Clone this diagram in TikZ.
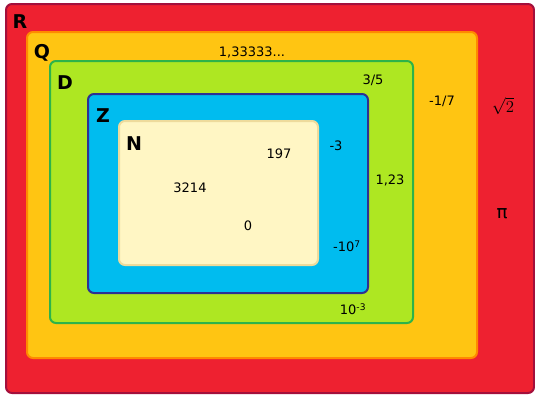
\documentclass[tikz,border=0pt]{standalone}
\usepackage{fontspec}
\setmainfont{DejaVu Sans}
\usepackage{xcolor}
\usetikzlibrary{positioning}

\definecolor{realred}{HTML}{EE2130}
\definecolor{realedge}{HTML}{A3103C}
\definecolor{ratyellow}{HTML}{FFC512}
\definecolor{ratedge}{HTML}{FF8A00}
\definecolor{decgreen}{HTML}{AEE722}
\definecolor{decedge}{HTML}{2DB34A}
\definecolor{intblue}{HTML}{00BCEF}
\definecolor{intedge}{HTML}{2E3192}
\definecolor{natcream}{HTML}{FFF6C4}
\definecolor{natedge}{HTML}{EEDB9C}

\begin{document}
\begin{tikzpicture}[
    x=1pt, y=-1pt,
    set/.style={rounded corners=6pt, line width=2pt},
    setname/.style={font=\fontsize{19}{21}\selectfont\bfseries, inner sep=0pt},
    num/.style={font=\fontsize{13}{15}\selectfont, inner sep=0pt}
]
\useasboundingbox (0,0) rectangle (535,394);

% Sets, outer to inner
\draw[set, fill=realred, draw=realedge] (6,4) rectangle (534,393);
\draw[set, fill=ratyellow, draw=ratedge] (27,32) rectangle (477,358);
\draw[set, fill=decgreen, draw=decedge] (50,61) rectangle (413,323);
\draw[set, fill=intblue, draw=intedge] (88,94) rectangle (368,293);
\draw[set, fill=natcream, draw=natedge] (119,121) rectangle (318,265);

% Set names
\node[setname] (R) at (20,22) {R};
\node[setname] (Q) at (42,53) {Q};
\node[setname] (D) at (65,83) {D};
\node[setname] (Z) at (103,116) {Z};
\node[setname] (N) at (134,144) {N};

% Naturals
\node[num] (n197) at (279,154) {197};
\node[num] (n3214) at (190,188) {3214};
\node[num] (n0) at (248,226) {0};

% Integers
\node[num] (zm3) at (336,146) {-3};
\node[num] (zm107) at (347,246) {-10\textsuperscript{7}};

% Decimals
\node[num] (d35) at (373,80) {3/5};
\node[num] (d123) at (390,180) {1,23};
\node[num] (d103) at (353,309) {10\textsuperscript{-3}};

% Rationals
\node[num] (q13) at (252,52) {1,33333...};
\node[num] (q17) at (442,101) {-1/7};

% Reals
\node[num, scale=1.4] (rsqrt) at (503,106) {$\sqrt{2}$};
\node[num, scale=1.4] (rpi) at (502,214) {π};

\end{tikzpicture}
\end{document}
